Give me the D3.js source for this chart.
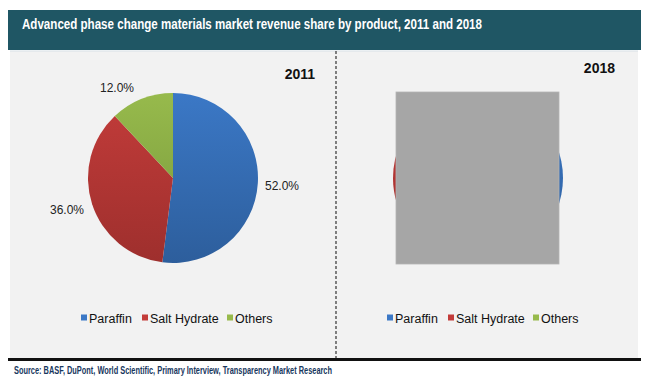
<!DOCTYPE html>
<html>
<head>
<meta charset="utf-8">
<script src="https://cdn.jsdelivr.net/npm/d3@7"></script>
<style>
  body { margin: 0; background: #fff; }
</style>
</head>
<body>
<script>
/* chart data */
var products = ['Paraffin', 'Salt Hydrate', 'Others'];
var share2011 = [52.0, 36.0, 12.0];
var share2018 = [50.0, 38.0, 12.0];   // hidden behind the grey box in the original
var years = ['2011', '2018'];
var colors = ['#3b78c6', '#c33c3a', '#97ba4c'];
var darkColors = ['#2d5e9c', '#9e2f2d', '#76973a'];

var width = 650,
    height = 384;

var svg = d3.select('body').append('svg')
    .attr('width', width)
    .attr('height', height)
    .style('font-family', 'Arial, "Liberation Sans", sans-serif');

/* vertical gradients for slices */
var defs = svg.append('defs');
colors.forEach(function(c, i) {
    var g = defs.append('linearGradient')
        .attr('id', 'grad' + i)
        .attr('gradientUnits', 'userSpaceOnUse')
        .attr('x1', 0).attr('y1', -85).attr('x2', 0).attr('y2', 85);
    g.append('stop').attr('offset', '0%').attr('stop-color', c);
    g.append('stop').attr('offset', '100%').attr('stop-color', darkColors[i]);
});

/* title bar */
svg.append('rect')
    .attr('x', 8).attr('y', 10)
    .attr('width', 633).attr('height', 40)
    .attr('fill', '#1f5664');
svg.append('text')
    .attr('x', 22).attr('y', 29)
    .attr('fill', '#fff')
    .style('font-size', '15px')
    .style('font-weight', 'bold')
    .attr('textLength', 460)
    .attr('lengthAdjust', 'spacingAndGlyphs')
    .text('Advanced phase change materials market revenue share by product, 2011 and 2018');

/* panel */
svg.append('rect')
    .attr('x', 10).attr('y', 51)
    .attr('width', 628).attr('height', 307)
    .attr('fill', '#f2f2f2');
svg.append('line')
    .attr('x1', 10).attr('x2', 638)
    .attr('y1', 51).attr('y2', 51)
    .attr('stroke', '#d7e0e6').attr('stroke-width', 1);

svg.append('line')
    .attr('x1', 336).attr('x2', 336)
    .attr('y1', 51).attr('y2', 358)
    .attr('stroke', '#333').attr('stroke-width', 1.2)
    .attr('stroke-dasharray', '3,2');

svg.append('line')
    .attr('x1', 8).attr('x2', 641)
    .attr('y1', 359.5).attr('y2', 359.5)
    .attr('stroke', '#111').attr('stroke-width', 3);

svg.append('text')
    .attr('x', 14).attr('y', 374)
    .attr('fill', '#17375e')
    .style('font-size', '11px')
    .style('font-weight', 'bold')
    .attr('textLength', 318)
    .attr('lengthAdjust', 'spacingAndGlyphs')
    .text('Source: BASF, DuPont, World Scientific, Primary Interview, Transparency Market Research');

/* pies */
var radius = 85;
var pie = d3.pie().sort(null).value(d => d);
var arc = d3.arc().innerRadius(0).outerRadius(radius);

var panels = [
    {year: years[0], values: share2011, cx: 173, cy: 178, yearX: 315, yearY: 79, legendX: 81},
    {year: years[1], values: share2018, cx: 478, cy: 178, yearX: 615, yearY: 73, legendX: 387}
];

panels.forEach(function(p, pi) {
    var g = svg.append('g').attr('transform', 'translate(' + p.cx + ',' + p.cy + ')');
    var arcs = pie(p.values);
    g.selectAll('path').data(arcs).enter().append('path')
        .attr('d', arc)
        .attr('fill', (d, i) => 'url(#grad' + i + ')')
        .attr('stroke', 'none');

    svg.append('text')
        .attr('x', p.yearX).attr('y', p.yearY)
        .attr('text-anchor', 'end')
        .style('font-size', '14px')
        .style('font-weight', 'bold')
        .attr('fill', '#111')
        .text(p.year);

    if (pi === 0) {
        var labelPos = [[265, 190], [50, 214], [100, 92]];
        svg.selectAll('.lbl').data(arcs).enter().append('text')
            .attr('x', (d, i) => labelPos[i][0])
            .attr('y', (d, i) => labelPos[i][1])
            .style('font-size', '12px')
            .attr('fill', '#222')
            .text(d => d.data.toFixed(1) + '%');
    } else {
        /* grey box covering the 2018 pie */
        svg.append('rect')
            .attr('x', 396).attr('y', 92)
            .attr('width', 163).attr('height', 172)
            .attr('fill', '#a6a6a6')
            .attr('stroke', '#b5b5b5').attr('stroke-width', 0.8);
    }

    /* legend */
    var offsets = [0, 61, 146];
    var lg = svg.append('g').attr('transform', 'translate(' + p.legendX + ',318)');
    var items = lg.selectAll('g').data(products).enter().append('g')
        .attr('transform', (d, i) => 'translate(' + offsets[i] + ',0)');
    items.append('rect')
        .attr('x', 0).attr('y', -3.5)
        .attr('width', 6).attr('height', 6)
        .attr('fill', (d, i) => colors[i]);
    items.append('text')
        .attr('x', 8).attr('y', 4.5)
        .style('font-size', '12.5px')
        .attr('fill', '#111')
        .text(d => d);
});
</script>
</body>
</html>
